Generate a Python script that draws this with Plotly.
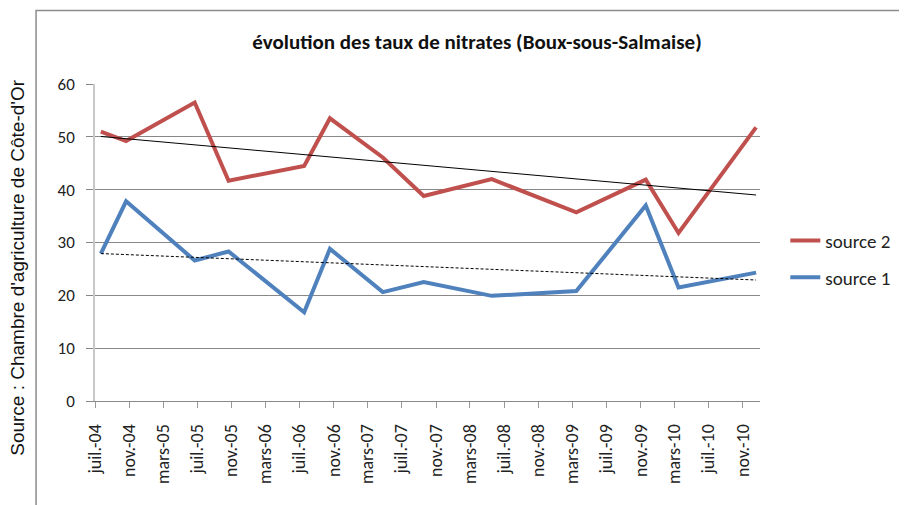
import numpy as np
import pandas as pd
import plotly.graph_objects as go

# ---- data ----
dates = ["2004-07-22", "2004-10-20", "2005-06-22", "2005-10-21", "2006-07-18",
         "2006-10-18", "2007-04-25", "2007-09-18", "2008-05-18", "2009-03-16",
         "2009-11-19", "2010-03-16", "2010-12-18"]
source2 = [51.0, 49.2, 56.5, 41.7, 44.5, 53.5, 46.1, 38.8, 42.0, 35.7, 41.9, 31.8, 51.8]
source1 = [27.9, 37.8, 26.6, 28.3, 16.8, 28.8, 20.6, 22.5, 19.9, 20.8, 37.0, 21.5, 24.3]

tick_dates = ["2004-07-01", "2004-11-01", "2005-03-01", "2005-07-01", "2005-11-01",
              "2006-03-01", "2006-07-01", "2006-11-01", "2007-03-01", "2007-07-01",
              "2007-11-01", "2008-03-01", "2008-07-01", "2008-11-01", "2009-03-01",
              "2009-07-01", "2009-11-01", "2010-03-01", "2010-07-01", "2010-11-01"]
tick_labels = ["juil.-04", "nov.-04", "mars-05", "juil.-05", "nov.-05", "mars-06",
               "juil.-06", "nov.-06", "mars-07", "juil.-07", "nov.-07", "mars-08",
               "juil.-08", "nov.-08", "mars-09", "juil.-09", "nov.-09", "mars-10",
               "juil.-10", "nov.-10"]
y_ticks = [0, 10, 20, 30, 40, 50, 60]

title_text = "évolution des taux de nitrates (Boux-sous-Salmaise)"
source_text = "Source : Chambre d'agriculture de Côte-d'Or"

# ---- linear trends (like Excel trendlines) ----
d = pd.to_datetime(dates)
days = (d - d[0]).days.values.astype(float)
ends = [d[0], d[-1]]
end_days = np.array([0.0, days[-1]])
p2 = np.polyfit(days, source2, 1)
p1 = np.polyfit(days, source1, 1)
trend2 = np.polyval(p2, end_days)
trend1 = np.polyval(p1, end_days)

FONT = "Carlito, Lato, 'Open Sans', sans-serif"
RED = "#C0504D"
BLUE = "#4F81BD"

fig = go.Figure()
fig.add_trace(go.Scatter(x=dates, y=source2, mode="lines", name="source 2",
                         line=dict(color=RED, width=4), legendgroup="a"))
fig.add_trace(go.Scatter(x=dates, y=source1, mode="lines", name="source 1",
                         line=dict(color=BLUE, width=4), legendgroup="b"))
fig.add_trace(go.Scatter(x=ends, y=trend2, mode="lines", showlegend=False,
                         line=dict(color="black", width=1), hoverinfo="skip"))
fig.add_trace(go.Scatter(x=ends, y=trend1, mode="lines", showlegend=False,
                         line=dict(color="black", width=1, dash="3px,2px"), hoverinfo="skip"))

OFF = 8  # page body margin
W, H = 907 - OFF, 505 - OFF
L = 95 - OFF
T = 84 - OFF
R = W - (760.7 - OFF)
B = H - (401.5 - OFF)
pw, ph = W - L - R, H - T - B

def px(xpix):  # page pixel -> paper x
    return (xpix - OFF - L) / pw

def py(ypix):  # page pixel -> paper y
    return (H - B - (ypix - OFF)) / ph

fig.update_layout(
    width=W, height=H,
    margin=dict(l=L, r=R, t=T, b=B),
    paper_bgcolor="white", plot_bgcolor="white",
    title=dict(text=title_text, xref="container", x=(477 - OFF) / W, xanchor="center",
               yref="container", y=1 - (42 - OFF) / H, yanchor="middle",
               font=dict(family=FONT, size=21, color="#111", weight="bold")),
    xaxis=dict(type="date", range=["2004-07-01", "2011-01-01"],
               tickvals=tick_dates, ticktext=tick_labels, tickangle=-90,
               ticks="outside", ticklen=6, tickcolor="#999", showgrid=False,
               showline=True, linecolor="#888", linewidth=1, ticklabelstandoff=9,
               tickfont=dict(family=FONT, size=18, color="#222"), zeroline=False),
    yaxis=dict(range=[0, 60], tickvals=y_ticks, ticks="outside", ticklen=7,
               tickcolor="#888", showgrid=True, gridcolor="#888", gridwidth=1,
               showline=True, linecolor="#c8c8c8", linewidth=1.5, zeroline=False,
               ticklabelstandoff=8,
               tickfont=dict(family=FONT, size=17, color="#222")),
    legend=dict(x=px(785), xanchor="left", y=py(259.5), yanchor="middle",
                font=dict(family=FONT, size=19, color="#222"),
                traceorder="grouped", tracegroupgap=9, bgcolor="rgba(0,0,0,0)"),
    showlegend=True,
    shapes=[dict(type="rect", xref="paper", yref="paper",
                 x0=px(36), x1=px(930), y0=py(530), y1=py(10.5),
                 line=dict(color="#8c8c8c", width=1.5), fillcolor="rgba(0,0,0,0)", layer="below")],
    annotations=[dict(text=source_text, xref="paper", yref="paper", x=px(18), y=py(268),
                      xanchor="center", yanchor="middle", textangle=-90, showarrow=False,
                      font=dict(family="Liberation Sans, Arial, sans-serif", size=19, color="#111"))],
)

fig.write_html("out.html")
